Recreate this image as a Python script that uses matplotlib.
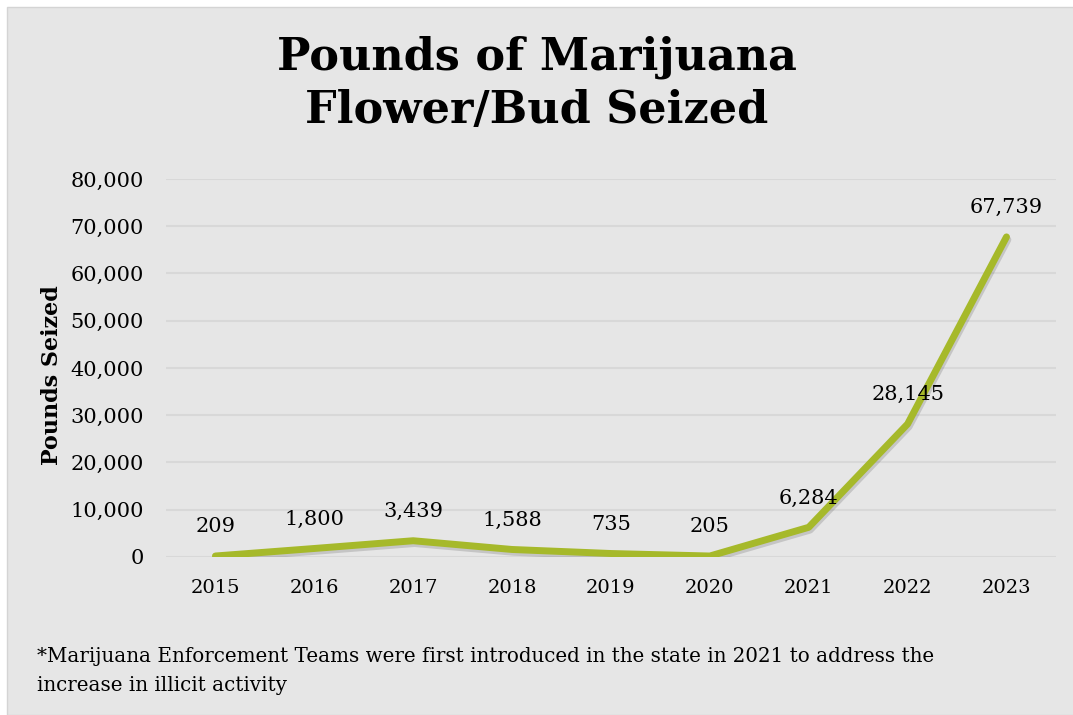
import matplotlib
matplotlib.use("Agg")
import matplotlib.pyplot as plt
import matplotlib.patheffects as pe
from matplotlib.patches import Rectangle
from matplotlib.ticker import FuncFormatter

years = ["2015", "2016", "2017", "2018", "2019", "2020", "2021", "2022", "2023"]
pounds = [209, 1800, 3439, 1588, 735, 205, 6284, 28145, 67739]

plt.rcParams['font.family'] = ['DejaVu Serif']

bg = '#e6e6e6'
green = '#a6b92a'

fig = plt.figure(figsize=(10.73, 7.15), dpi=100, facecolor='white')
# gray panel behind everything, leaving a thin white margin top/left
fig.patches.append(Rectangle((7 / 1073, 0), 1, 1 - 7 / 715, transform=fig.transFigure,
                             facecolor=bg, edgecolor='#d4d4d4', linewidth=1, zorder=-5))

ax = fig.add_axes([0.1547, 0.221, 0.8294, 0.5287])
ax.set_facecolor('none')
ax.set_zorder(2)

x = list(range(len(years)))
ax.plot(x, pounds, color=green, linewidth=5, solid_capstyle='round', solid_joinstyle='round',
        path_effects=[pe.SimpleLineShadow(offset=(1, -2), shadow_color='#505050', alpha=0.22),
                      pe.Normal()], zorder=3)

for xi, v in zip(x, pounds):
    ax.annotate(f"{v:,}", (xi, v), xytext=(0, 21), textcoords='offset points',
                ha='center', va='center', fontsize=15, color='black', zorder=4)

ax.set_xlim(-0.5, len(years) - 0.5)
ax.set_ylim(0, 80000)
ax.set_yticks(range(0, 80001, 10000))
ax.yaxis.set_major_formatter(FuncFormatter(lambda v, p: f"{int(v):,}"))
ax.set_xticks(x)
ax.set_xticklabels(years)
ax.tick_params(axis='both', length=0, colors='black')
ax.tick_params(axis='y', labelsize=15, pad=16)
ax.tick_params(axis='x', labelsize=14, pad=16)
ax.grid(axis='y', color='#d8d8d8', linewidth=1.5)
ax.set_axisbelow(True)
for s in ax.spines.values():
    s.set_visible(False)

fig.text(52 / 1073, 1 - 375 / 715, "Pounds Seized", rotation=90, ha='center', va='center',
         fontsize=16, fontweight='bold', zorder=5)

fig.text(0.5, 1 - 84 / 715, "Pounds of Marijuana\nFlower/Bud Seized", ha='center', va='center',
         fontsize=32, fontweight='bold', linespacing=1.3)

fig.text(37 / 1073, 1 - 671 / 715,
         "*Marijuana Enforcement Teams were first introduced in the state in 2021 to address the\n"
         "increase in illicit activity", ha='left', va='center', fontsize=14.3, linespacing=1.65)

fig.savefig("out.png", dpi=100, facecolor=fig.get_facecolor())
